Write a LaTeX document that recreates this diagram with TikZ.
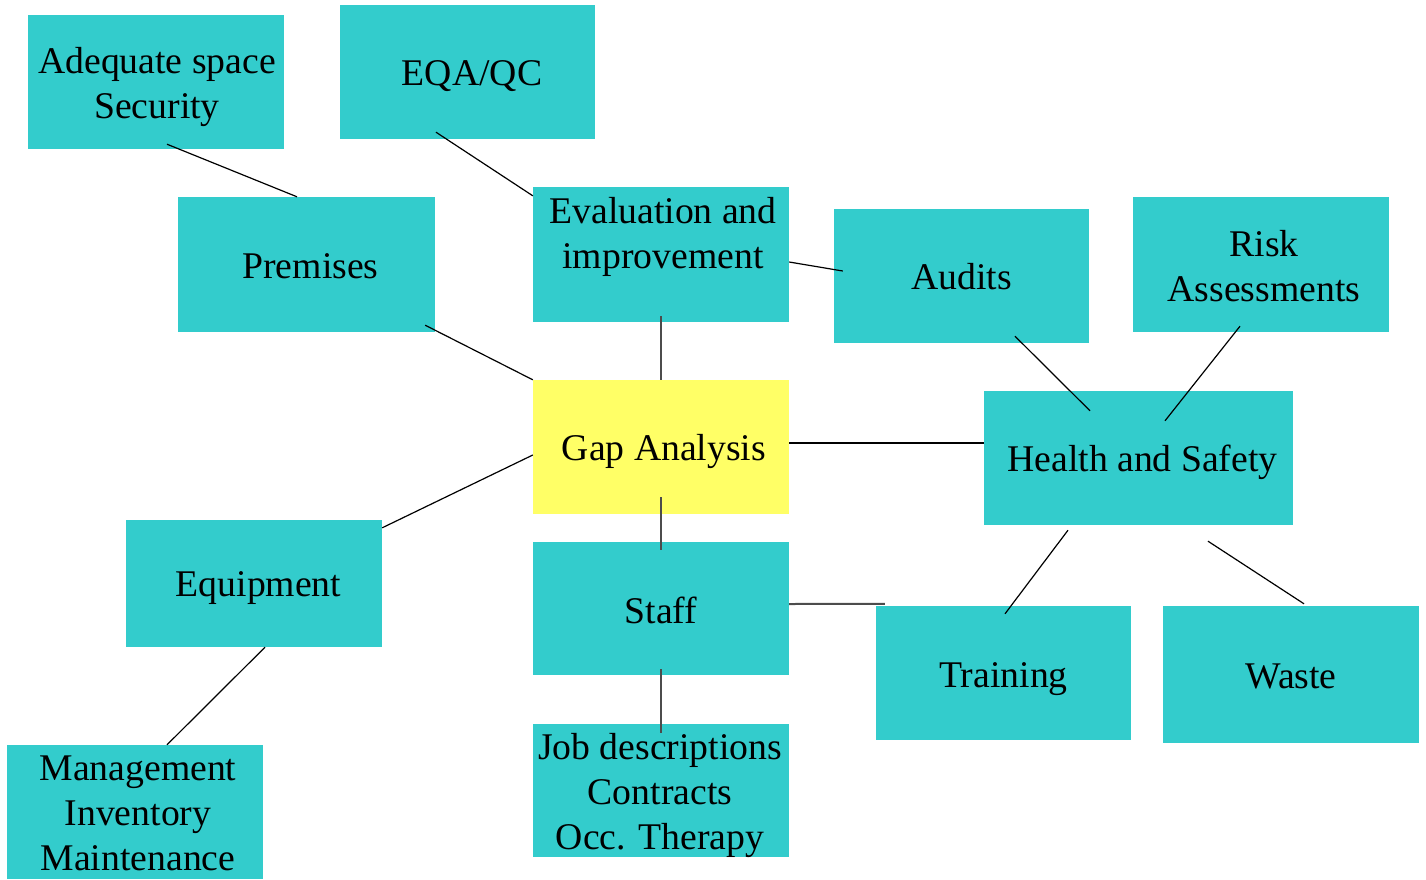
\documentclass[tikz,border=0pt]{standalone}
\usepackage{fontspec}
\setmainfont{Liberation Serif}
\definecolor{boxteal}{HTML}{33CCCC}
\definecolor{boxyellow}{HTML}{FFFF66}
\tikzset{
  topic/.style={fill=boxteal,inner sep=0pt,minimum width=256pt,minimum height=134pt},
  caption/.style={inner sep=0pt,align=center,yshift=-4.5pt,
    font=\fontsize{37.7pt}{45pt}\selectfont},
  link/.style={black,line width=1.2pt},
  stem/.style={black!70,line width=2pt}
}
\begin{document}
\begin{tikzpicture}[x=1pt,y=-1pt]
    \useasboundingbox (0,0) rectangle (1426,879);
    % Boxes, text as centred labels
    \node[topic,label={[caption,name=spacetext,xshift=1pt]center:Adequate space\\Security}] (space) at (156,82) {};
    \node[topic,minimum width=255pt,label={[caption,name=eqatext,xshift=4.5pt]center:EQA/QC}] (eqa) at (467.5,72) {};
    \node[topic,minimum width=257pt,minimum height=135pt,label={[caption,name=premisestext,xshift=4pt,yshift=3pt]center:Premises}] (premises) at (306.5,264.5) {};
    \node[topic,minimum height=135pt,label={[caption,name=evaltext,xshift=2pt,yshift=22pt]center:Evaluation and\\improvement}] (eval) at (661,254.5) {};
    \node[topic,minimum width=255pt,label={[caption,name=auditstext,yshift=3.5pt]center:Audits}] (audits) at (961.5,276) {};
    \node[topic,minimum height=135pt,label={[caption,name=risktext,xshift=3pt,yshift=2.5pt]center:Risk\\Assessments}] (risk) at (1261,264.5) {};
    \node[topic,fill=boxyellow,label={[caption,name=gaptext,xshift=3pt]center:Gap Analysis}] (gap) at (661,447) {};
    \node[topic,minimum width=309pt,label={[caption,name=healthtext,xshift=4pt]center:Health and Safety}] (health) at (1138.5,458) {};
    \node[topic,minimum height=127pt,label={[caption,name=equiptext,xshift=4.5pt]center:Equipment}] (equip) at (254,583.5) {};
    \node[topic,minimum height=133pt,label={[caption,name=stafftext,yshift=3pt]center:Staff}] (staff) at (661,608.5) {};
    \node[topic,minimum width=255pt,label={[caption,name=trainingtext,yshift=-2pt]center:Training}] (training) at (1003.5,673) {};
    \node[topic,minimum height=137pt,label={[caption,name=wastetext,yshift=3pt]center:Waste}] (waste) at (1291,674.5) {};
    \node[topic,label={[caption,name=managetext,xshift=3pt,yshift=3pt]center:Management\\Inventory\\Maintenance}] (manage) at (135,812) {};
    \node[topic,minimum height=133pt,label={[caption,name=jobstext,xshift=-1pt]center:Job descriptions\\Contracts\\Occ. Therapy}] (jobs) at (661,790.5) {};
    % Connectors
    \draw[link] ([xshift=11pt,yshift=5pt]space.south) -- ([xshift=-9.5pt]premises.north);
    \draw[link] ([xshift=-31.5pt,yshift=7pt]eqa.south) -- ([yshift=-9pt]eval.north west);
    \draw[link] ([xshift=-10pt,yshift=7pt]premises.south east) -- (gap.north west);
    \draw[stem] ([yshift=6pt]eval.south) -- (gap.north);
    \draw[link] ([yshift=-7.5pt]eval.east) -- ([xshift=9pt,yshift=5pt]audits.west);
    \draw[link] ([xshift=53.5pt,yshift=7pt]audits.south) -- ([xshift=-48.5pt,yshift=-20pt]health.north);
    \draw[link] ([xshift=-21pt,yshift=6pt]risk.south) -- ([xshift=26.5pt,yshift=-30pt]health.north);
    \draw[link] ([yshift=4pt]gap.east) -- ([yshift=4pt]gap.east -| health.west);
    \draw[link] ([yshift=-8pt]gap.west) -- ([yshift=-8pt]equip.north east);
    \draw[stem] ([yshift=17pt]gap.south) -- ([yshift=-8pt]staff.north);
    \draw[stem] ([yshift=4.5pt]staff.east) -- ([xshift=9pt,yshift=2pt]training.north west);
    \draw[link] ([xshift=-70.5pt,yshift=-5pt]health.south) -- ([xshift=1.5pt,yshift=-8pt]training.north);
    \draw[link] ([xshift=69.5pt,yshift=-16pt]health.south) -- ([xshift=13pt,yshift=2pt]waste.north);
    \draw[link] ([xshift=11pt]equip.south) -- ([xshift=32pt]manage.north);
    \draw[stem] ([yshift=6pt]staff.south) -- ([yshift=-9pt]jobs.north);
\end{tikzpicture}
\end{document}
